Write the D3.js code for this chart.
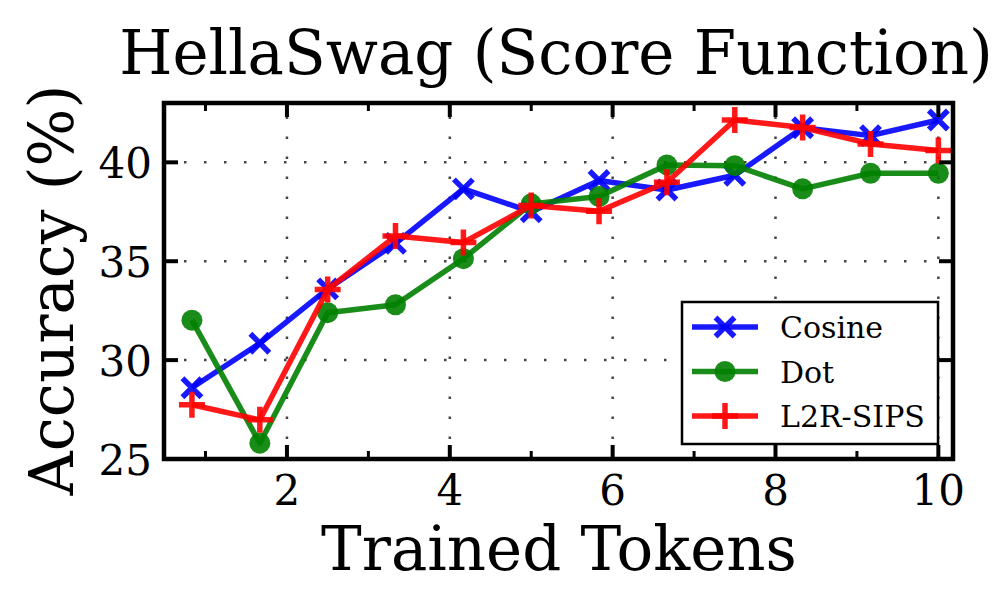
<!DOCTYPE html>
<html><head><meta charset="utf-8">
<script src="https://cdn.jsdelivr.net/npm/d3@7"></script>
<style>body{margin:0;background:#fff}svg{display:block}text{font-family:"DejaVu Serif",serif;fill:#000}</style>
</head><body><svg id="c" width="996" height="611"></svg>
<script>
const xValues = [0.833, 1.667, 2.5, 3.333, 4.167, 5.0, 5.833, 6.667, 7.5, 8.333, 9.167, 10.0];
const cosine = [28.6, 30.85, 33.6, 35.9, 38.66, 37.5, 39.08, 38.6, 39.35, 41.75, 41.35, 42.14];
const dot = [32.02, 25.8, 32.4, 32.8, 35.13, 37.9, 38.27, 39.87, 39.83, 38.66, 39.45, 39.45];
const l2r = [27.74, 26.98, 33.57, 36.27, 35.95, 37.82, 37.53, 38.99, 42.14, 41.76, 40.93, 40.6];
const seriesNames = ["Cosine", "Dot", "L2R-SIPS"];
const xTicks = [2, 4, 6, 8, 10];
const xMinorTicks = [1, 3, 5, 7, 9];
const yTicks = [25, 30, 35, 40];
const titleText = "HellaSwag (Score Function)";
const xLabel = "Trained Tokens";
const yLabel = "Accuracy (%)";

const L = 164, R = 953, T = 103, B = 459;
const svg = d3.select("#c");
const x = d3.scaleLinear().domain([0.49, 10.18]).range([L, R]);
const y = d3.scaleLinear().domain([25, 43]).range([B, T]);

// grid
const g = svg.append("g");
g.selectAll(".gx").data(xTicks).enter().append("line")
  .attr("x1", d => x(d)).attr("x2", d => x(d)).attr("y1", B).attr("y2", T)
  .attr("stroke", "#444").attr("stroke-width", 2.5).attr("stroke-dasharray", "2.5,17.5");
g.selectAll(".gy").data(yTicks.filter(d => d > 25)).enter().append("line")
  .attr("y1", d => y(d)).attr("y2", d => y(d)).attr("x1", L).attr("x2", R)
  .attr("stroke", "#444").attr("stroke-width", 2.5).attr("stroke-dasharray", "2.5,17.5");

const series = [
  {name: seriesNames[0], vals: cosine, color: "#0000ff", marker: "x"},
  {name: seriesNames[1], vals: dot, color: "#008000", marker: "o"},
  {name: seriesNames[2], vals: l2r, color: "#ff0000", marker: "+"}
];

function drawMarker(sel, type, color, cx, cy) {
  if (type === "o") {
    sel.append("circle").attr("cx", cx).attr("cy", cy).attr("r", 10.5)
      .attr("fill", color).attr("fill-opacity", 0.9);
  } else if (type === "x") {
    const s = 9.5;
    sel.append("path").attr("d", `M${cx-s},${cy-s}L${cx+s},${cy+s}M${cx-s},${cy+s}L${cx+s},${cy-s}`)
      .attr("stroke", color).attr("stroke-width", 5.5).attr("stroke-opacity", 0.9).attr("fill", "none");
  } else {
    const s = 13;
    sel.append("path").attr("d", `M${cx-s},${cy}L${cx+s},${cy}M${cx},${cy-s}L${cx},${cy+s}`)
      .attr("stroke", color).attr("stroke-width", 5.5).attr("stroke-opacity", 0.9).attr("fill", "none");
  }
}

const line = d3.line().x(d => x(d[0])).y(d => y(d[1]));
series.forEach(s => {
  const pts = xValues.map((xv, i) => [xv, s.vals[i]]);
  const sg = svg.append("g");
  sg.append("path").attr("d", line(pts)).attr("fill", "none")
    .attr("stroke", s.color).attr("stroke-width", 5.5).attr("stroke-opacity", 0.9)
    .attr("stroke-linejoin", "round");
  pts.forEach(p => drawMarker(sg, s.marker, s.color, x(p[0]), y(p[1])));
});

// spines
svg.append("rect").attr("x", L).attr("y", T).attr("width", R - L).attr("height", B - T)
  .attr("fill", "none").attr("stroke", "#000").attr("stroke-width", 4.5);

// ticks (inward, all sides)
const tk = svg.append("g").attr("stroke", "#000");
xTicks.forEach(d => {
  tk.append("line").attr("x1", x(d)).attr("x2", x(d)).attr("y1", B).attr("y2", B - 14).attr("stroke-width", 4);
  tk.append("line").attr("x1", x(d)).attr("x2", x(d)).attr("y1", T).attr("y2", T + 14).attr("stroke-width", 4);
});
xMinorTicks.forEach(d => {
  tk.append("line").attr("x1", x(d)).attr("x2", x(d)).attr("y1", B).attr("y2", B - 8).attr("stroke-width", 3);
  tk.append("line").attr("x1", x(d)).attr("x2", x(d)).attr("y1", T).attr("y2", T + 8).attr("stroke-width", 3);
});
yTicks.forEach(d => {
  tk.append("line").attr("y1", y(d)).attr("y2", y(d)).attr("x1", L).attr("x2", L + 14).attr("stroke-width", 4);
  tk.append("line").attr("y1", y(d)).attr("y2", y(d)).attr("x1", R).attr("x2", R - 14).attr("stroke-width", 4);
});

// tick labels
svg.selectAll(".xl").data(xTicks).enter().append("text")
  .attr("x", d => x(d)).attr("y", 505).attr("text-anchor", "middle")
  .attr("font-size", 42).text(d => d);
svg.selectAll(".yl").data(yTicks).enter().append("text")
  .attr("x", 152).attr("y", d => y(d) + 16).attr("text-anchor", "end")
  .attr("font-size", 42).text(d => d);

// title & labels
svg.append("text").attr("x", 556).attr("y", 74).attr("text-anchor", "middle")
  .attr("font-size", 61).text(titleText);
svg.append("text").attr("x", 559).attr("y", 570).attr("text-anchor", "middle")
  .attr("font-size", 61).text(xLabel);
svg.append("text").attr("transform", `translate(73,290) rotate(-90)`)
  .attr("text-anchor", "middle").attr("font-size", 61).text(yLabel);

// legend
const lg = svg.append("g");
lg.append("rect").attr("x", 682).attr("y", 302).attr("width", 256).attr("height", 142)
  .attr("fill", "#fff").attr("stroke", "#000").attr("stroke-width", 2.5);
series.forEach((s, i) => {
  const cy = 327 + i * 44.5;
  lg.append("line").attr("x1", 692).attr("x2", 758).attr("y1", cy).attr("y2", cy)
    .attr("stroke", s.color).attr("stroke-width", 5.5).attr("stroke-opacity", 0.9);
  drawMarker(lg, s.marker, s.color, 725, cy);
  lg.append("text").attr("x", 780).attr("y", cy + 11).attr("font-size", 30).text(s.name);
});
</script></body></html>
